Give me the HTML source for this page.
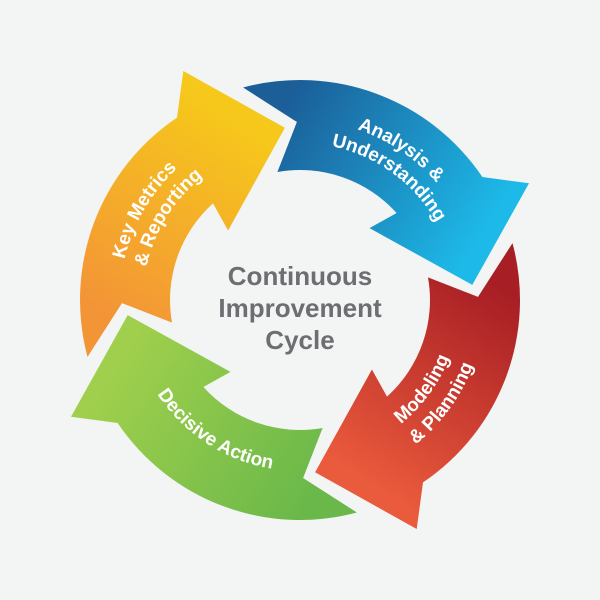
<!DOCTYPE html>
<html><head><style>
html,body{margin:0;padding:0;background:#f3f4f4;}
svg{display:block;}
.t{font-family:"Liberation Sans",Arial,sans-serif;font-weight:bold;fill:#fff;font-size:19px;}
.c{font-family:"Liberation Sans",Arial,sans-serif;font-weight:bold;fill:#6d6e71;font-size:26px;}
</style></head><body>
<svg id="s" width="600" height="600" viewBox="0 0 600 600" xmlns="http://www.w3.org/2000/svg">
<rect width="600" height="600" fill="#f3f4f4"/>
<defs id="d"></defs>
<g id="g"></g>
<text class="c" x="300" y="285" text-anchor="middle">Continuous</text>
<text class="c" x="300" y="317" text-anchor="middle">Improvement</text>
<text class="c" x="300" y="349" text-anchor="middle">Cycle</text>
</svg>
<script>
var cx=300,cy=300,NS="http://www.w3.org/2000/svg";
function p(a,r){var t=a*Math.PI/180;return [(cx+r*Math.cos(t)).toFixed(1),(cy+r*Math.sin(t)).toFixed(1)];}
function P(a,r){return p(a,r).join(",");}
var arrows=[
 {o:0,c1:"#6ab84a",c2:"#9fcf4c"},
 {o:90,c1:"#f39437",c2:"#f6c81b"},
 {o:180,c1:"#1b5e98",c2:"#1db9e8"},
 {o:-90,c1:"#a71e24",c2:"#ea5a3c"}
];
var defs=document.getElementById("d"),g=document.getElementById("g");
var html="",dh="";
arrows.forEach(function(A,i){
 var o=A.o,R=220,r=130;
 var d="M"+P(75+o,R)+" A"+R+" "+R+" 0 0 1 "+P(146+o,R)+" L"+P(153+o,257)+" L"+P(175+o,173)+" L"+P(134+o,100)+" L"+P(138+o,r)+" A"+r+" "+r+" 0 0 0 "+P(80+o,r)+" L"+P(89+o,178)+" Z";
 var a=p(80+o,175),b=p(165+o,175);
 dh+='<linearGradient id="gr'+i+'" gradientUnits="userSpaceOnUse" x1="'+a[0]+'" y1="'+a[1]+'" x2="'+b[0]+'" y2="'+b[1]+'"><stop offset="0" stop-color="'+A.c1+'"/><stop offset="1" stop-color="'+A.c2+'"/></linearGradient>';
 html+='<path d="'+d+'" fill="url(#gr'+i+')"/>';
});
function cw(id,a,r){return '<path id="'+id+'" d="M'+P(a-70,r)+' A'+r+' '+r+' 0 0 1 '+P(a+70,r)+'" fill="none"/>';}
function ccw(id,a,r){return '<path id="'+id+'" d="M'+P(a+70,r)+' A'+r+' '+r+' 0 0 0 '+P(a-70,r)+'" fill="none"/>';}
dh+=cw("b1",304,180)+cw("b2",306,157)+cw("y1",210,180)+cw("y2",212,157)+ccw("r1",36,160)+ccw("r2",36,185)+ccw("g1",123,171);
defs.innerHTML=dh;
function tp(id,s){return '<text class="t" text-anchor="middle"><textPath href="#'+id+'" startOffset="50%">'+s+'</textPath></text>';}
html+=tp("b1","Analysis &amp;")+tp("b2","Understanding")+tp("y1","Key Metrics")+tp("y2","&amp; Reporting")+tp("r1","Modeling")+tp("r2","&amp; Planning")+tp("g1","Decisive Action");
g.innerHTML=html;
</script>
</body></html>
